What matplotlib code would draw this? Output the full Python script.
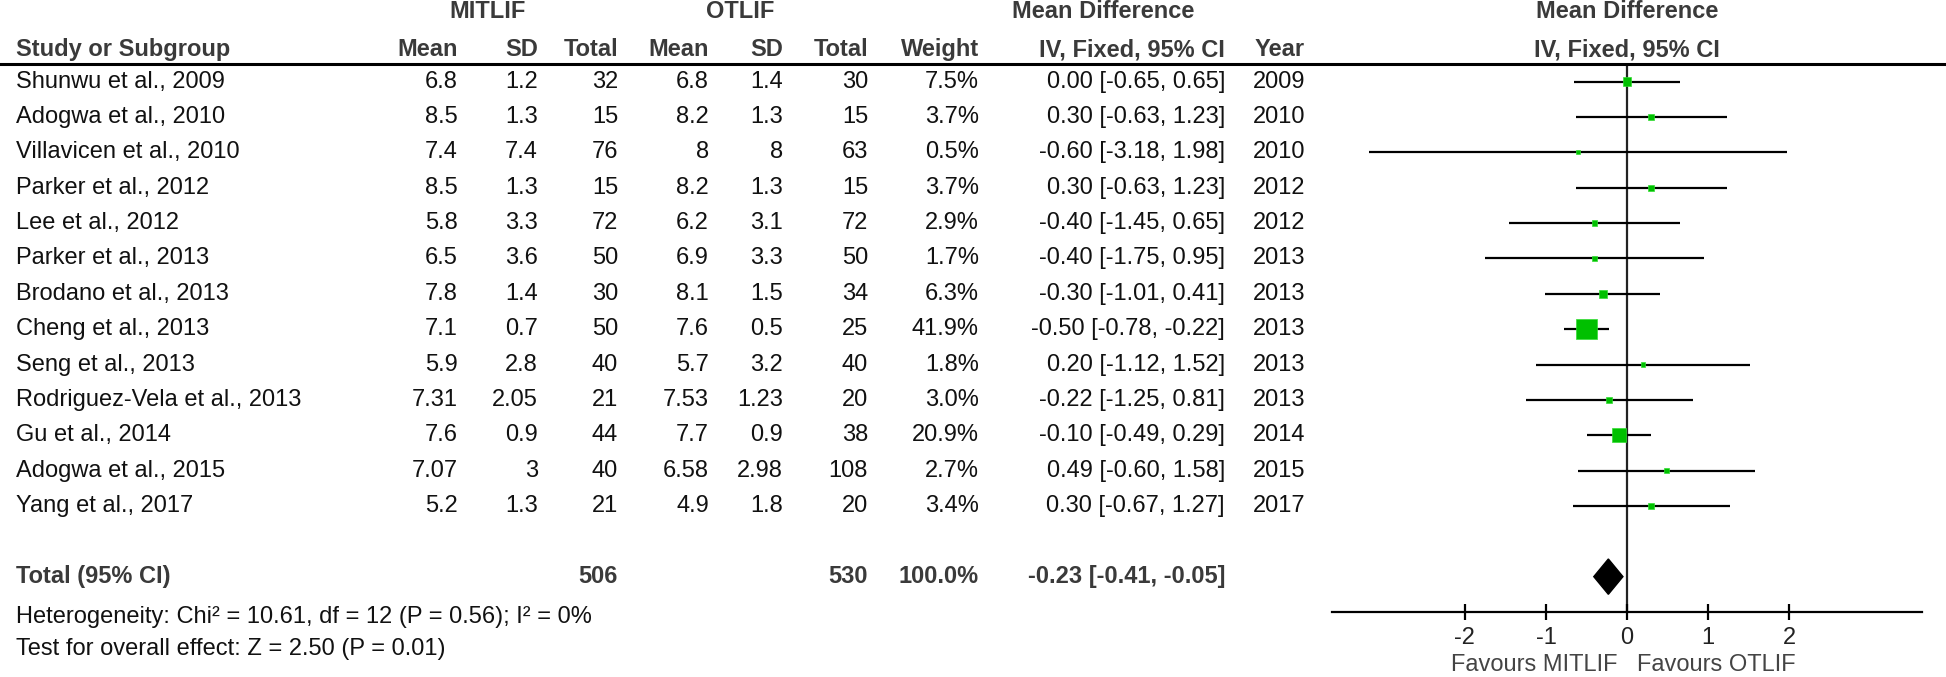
import numpy as np
import matplotlib
matplotlib.use("Agg")
import matplotlib.pyplot as plt
from matplotlib.lines import Line2D
from matplotlib.patches import Polygon
from matplotlib.transforms import blended_transform_factory

plt.rcParams['font.family'] = ['Liberation Sans', 'DejaVu Sans']

studies = ["Shunwu et al., 2009", "Adogwa et al., 2010", "Villavicen et al., 2010",
           "Parker et al., 2012", "Lee et al., 2012", "Parker et al., 2013",
           "Brodano et al., 2013", "Cheng et al., 2013", "Seng et al., 2013",
           "Rodriguez-Vela et al., 2013", "Gu et al., 2014", "Adogwa et al., 2015",
           "Yang et al., 2017"]
m1 = [6.8, 8.5, 7.4, 8.5, 5.8, 6.5, 7.8, 7.1, 5.9, 7.31, 7.6, 7.07, 5.2]
sd1 = [1.2, 1.3, 7.4, 1.3, 3.3, 3.6, 1.4, 0.7, 2.8, 2.05, 0.9, 3, 1.3]
n1 = [32, 15, 76, 15, 72, 50, 30, 50, 40, 21, 44, 40, 21]
m2 = [6.8, 8.2, 8, 8.2, 6.2, 6.9, 8.1, 7.6, 5.7, 7.53, 7.7, 6.58, 4.9]
sd2 = [1.4, 1.3, 8, 1.3, 3.1, 3.3, 1.5, 0.5, 3.2, 1.23, 0.9, 2.98, 1.8]
n2 = [30, 15, 63, 15, 72, 50, 34, 25, 40, 20, 38, 108, 20]
weight = [7.5, 3.7, 0.5, 3.7, 2.9, 1.7, 6.3, 41.9, 1.8, 3.0, 20.9, 2.7, 3.4]
md = [0.00, 0.30, -0.60, 0.30, -0.40, -0.40, -0.30, -0.50, 0.20, -0.22, -0.10, 0.49, 0.30]
lo = [-0.65, -0.63, -3.18, -0.63, -1.45, -1.75, -1.01, -0.78, -1.12, -1.25, -0.49, -0.60, -0.67]
hi = [0.65, 1.23, 1.98, 1.23, 0.65, 0.95, 0.41, -0.22, 1.52, 0.81, 0.29, 1.58, 1.27]
years = [2009, 2010, 2010, 2012, 2012, 2013, 2013, 2013, 2013, 2013, 2014, 2015, 2017]

tot_n1, tot_n2 = 506, 530
tot_md, tot_lo, tot_hi = -0.23, -0.41, -0.05
xticks = [-2, -1, 0, 1, 2]

W, H = 1946, 677
fig = plt.figure(figsize=(W / 100, H / 100), dpi=100)

# forest panel (pixel box of the axis)
x0, x1, ytop, ybot = 1332, 1922, 64, 612
ax = fig.add_axes([x0 / W, 1 - ybot / H, (x1 - x0) / W, (ybot - ytop) / H])
ax.set_xlim(-3.64, 3.64)
ax.set_ylim(15, -0.5)
for s in ['top', 'left', 'right']:
    ax.spines[s].set_visible(False)
ax.spines['bottom'].set_linewidth(1.6)
ax.set_yticks([])
ax.set_xticks(xticks)
ax.set_xticklabels([str(t) for t in xticks])
ax.tick_params(axis='x', direction='inout', length=12, width=1.6, labelsize=17, pad=5,
               labelcolor='#222222')
ax.axvline(0, color='#222222', lw=1.6, zorder=1)

rows = np.arange(len(studies))
ax.hlines(rows, lo, hi, color='black', lw=1.6, zorder=2)
side = np.maximum(3.1 * np.sqrt(weight), 4.2) * 0.72
ax.scatter(md, rows, marker='s', s=side ** 2, color='#00c000', edgecolor='#33dd33',
           linewidths=0.5, zorder=3)
trow = len(studies) + 1
ax.add_patch(Polygon([[tot_lo, trow], [tot_md, trow - 0.5], [tot_hi, trow], [tot_md, trow + 0.5]],
                     closed=True, color='black', zorder=3))

ax.text(-0.12, 16.5, "Favours MITLIF", ha='right', va='center', fontsize=17, color='#444444',
        clip_on=False)
ax.text(0.12, 16.5, "Favours OTLIF", ha='left', va='center', fontsize=17, color='#444444',
        clip_on=False)

# table text
tr = blended_transform_factory(fig.transFigure, ax.transData)
fs = 17
def put(x, y, s, ha='right', **kw):
    fig.text(x / W, y, s, transform=tr, ha=ha, va='center', fontsize=fs, **kw)

col_m1, col_sd1, col_n1 = 458, 538, 618
col_m2, col_sd2, col_n2 = 709, 783, 868
col_w, col_ci, col_yr = 979, 1225, 1305

for i in rows:
    put(16, i, studies[i], ha='left', color='#111111')
    put(col_m1, i, f"{m1[i]:g}", color='#111111')
    put(col_sd1, i, f"{sd1[i]:g}", color='#111111')
    put(col_n1, i, f"{n1[i]}", color='#111111')
    put(col_m2, i, f"{m2[i]:g}", color='#111111')
    put(col_sd2, i, f"{sd2[i]:g}", color='#111111')
    put(col_n2, i, f"{n2[i]}", color='#111111')
    put(col_w, i, f"{weight[i]:.1f}%", color='#111111')
    put(col_ci, i, f"{md[i]:.2f} [{lo[i]:.2f}, {hi[i]:.2f}]", color='#111111')
    put(col_yr, i, f"{years[i]}", color='#111111')

hc = '#3a3a3a'
bold = dict(color=hc, fontweight='bold')
put(16, trow, "Total (95% CI)", ha='left', **bold)
put(col_n1, trow, f"{tot_n1}", **bold)
put(col_n2, trow, f"{tot_n2}", **bold)
put(col_w, trow, "100.0%", **bold)
put(col_ci, trow, f"{tot_md:.2f} [{tot_lo:.2f}, {tot_hi:.2f}]", **bold)
put(16, trow + 1.15, "Heterogeneity: Chi² = 10.61, df = 12 (P = 0.56); I² = 0%", ha='left',
    color='#111111')
put(16, trow + 2.05, "Test for overall effect: Z = 2.50 (P = 0.01)", ha='left', color='#111111')

# headers
put(488, -1.98, "MITLIF", ha='center', **bold)
put(740, -1.98, "OTLIF", ha='center', **bold)
put(1103, -1.98, "Mean Difference", ha='center', **bold)
put(1627, -1.98, "Mean Difference", ha='center', **bold)
put(16, -0.9, "Study or Subgroup", ha='left', **bold)
for x, s in [(col_m1, "Mean"), (col_sd1, "SD"), (col_n1, "Total"), (col_m2, "Mean"),
             (col_sd2, "SD"), (col_n2, "Total"), (col_w, "Weight"), (col_ci, "IV, Fixed, 95% CI"),
             (col_yr, "Year")]:
    put(x, -0.9, s, **bold)
put(1627, -0.9, "IV, Fixed, 95% CI", ha='center', **bold)

fig.add_artist(Line2D([0, 1944 / W], [1 - ytop / H] * 2, transform=fig.transFigure,
                      color='black', lw=2.2))

fig.savefig("out.png", dpi=100, facecolor='white')
